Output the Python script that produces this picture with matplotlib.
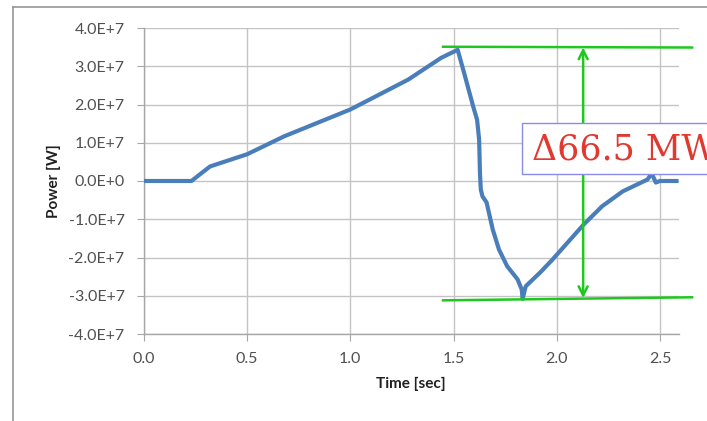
import matplotlib.pyplot as plt
from matplotlib.lines import Line2D
from matplotlib.patches import Rectangle
from matplotlib.ticker import FuncFormatter

# power trace
time_s = [0.0, 0.23, 0.27, 0.32, 0.50, 0.68, 0.84, 1.00, 1.28, 1.44, 1.52,
          1.556, 1.595, 1.614, 1.624, 1.628, 1.632, 1.64, 1.66, 1.69, 1.72,
          1.76, 1.81, 1.83, 1.835, 1.845, 1.85, 1.92, 1.98, 2.13, 2.22,
          2.32, 2.39, 2.44, 2.46, 2.48, 2.50, 2.58]
power_w = [0.0, 0.0, 0.17e7, 0.38e7, 0.70e7, 1.17e7, 1.52e7, 1.87e7, 2.65e7,
           3.22e7, 3.43e7,
           2.73e7, 1.95e7, 1.60e7, 1.08e7, 0.2e7, -0.22e7, -0.40e7, -0.56e7,
           -1.27e7, -1.79e7,
           -2.23e7, -2.57e7, -2.83e7, -3.08e7, -2.85e7, -2.75e7, -2.39e7,
           -2.05e7, -1.14e7, -0.66e7,
           -0.27e7, -0.09e7, 0.04e7, 0.20e7, -0.04e7, 0.0, 0.0]

x_ticks = [0.0, 0.5, 1.0, 1.5, 2.0, 2.5]
y_ticks = [-4e7, -3e7, -2e7, -1e7, 0, 1e7, 2e7, 3e7, 4e7]

# annotation lines (data coords)
top_line = ([1.449, 2.656], [3.51e7, 3.49e7])
bottom_line = ([1.449, 2.656], [-3.12e7, -3.04e7])
arrow_x = 2.128
arrow_y = (3.49e7, -3.06e7)
delta_label = "\u039466.5 MW"

W, H = 707, 421
plt.rcParams['font.family'] = ['Lato', 'DejaVu Sans']

fig = plt.figure(figsize=(W / 100, H / 100), dpi=100)
ax = fig.add_axes([144 / W, 1 - 334 / H, (678.5 - 144) / W, (334 - 28) / H])

ax.plot(time_s, power_w, color='#4a7ebb', lw=3.0, solid_joinstyle='round', zorder=3)

ax.set_xlim(0, 2.59)
ax.set_ylim(-4e7, 4e7)
ax.set_xticks(x_ticks)
ax.set_yticks(y_ticks)
ax.xaxis.set_major_formatter(FuncFormatter(lambda v, p: f"{v:.1f}"))


def sci(v, p):
    if v == 0:
        return "0.0E+0"
    e = 7
    return f"{v / 10 ** e:.1f}E+{e}"


ax.yaxis.set_major_formatter(FuncFormatter(sci))
ax.grid(True, color='#c4c4c4', lw=1.0)
ax.set_axisbelow(True)
for s in ['top', 'right']:
    ax.spines[s].set_visible(False)
for s in ['left', 'bottom']:
    ax.spines[s].set_color('#a6a6a6')
    ax.spines[s].set_linewidth(1.0)
ax.tick_params(axis='both', colors='#a6a6a6', labelcolor='#505050',
               labelsize=11.5, length=5, direction='out')
ax.tick_params(axis='y', pad=9)
ax.tick_params(axis='x', pad=8)
ax.set_xlabel("Time [sec]", fontsize=11, fontweight='bold', color='#202020', labelpad=8)
ax.set_ylabel("Power [W]", fontsize=11, fontweight='bold', color='#202020', labelpad=5)

green = '#1ec81e'
ax.plot(*top_line, color=green, lw=1.8, clip_on=False, zorder=4)
ax.plot(*bottom_line, color=green, lw=1.8, clip_on=False, zorder=4)
ax.annotate("", xy=(arrow_x, arrow_y[0]), xytext=(arrow_x, arrow_y[1]),
            arrowprops=dict(arrowstyle='<->', color=green, lw=1.8,
                            mutation_scale=16, shrinkA=0, shrinkB=0), zorder=4)

# label box, runs off the right edge like in the source
fig.patches.append(Rectangle((522 / W, 1 - 174 / H), 200 / W, 51 / H,
                             transform=fig.transFigure, facecolor='white',
                             edgecolor='#8a8ae8', lw=1.0, zorder=5))
fig.text(532 / W, 1 - 149 / H, delta_label, family=['DejaVu Serif'],
         fontsize=25, color='#e03a30', va='center', ha='left', zorder=6)

# outer frame
fig.add_artist(Line2D([13 / W, 13 / W], [0, 1 - 7 / H], transform=fig.transFigure,
                      color='#969696', lw=1.2))
fig.add_artist(Line2D([13 / W, 1], [1 - 7 / H, 1 - 7 / H], transform=fig.transFigure,
                      color='#969696', lw=1.2))

fig.savefig('out.png', dpi=100)
